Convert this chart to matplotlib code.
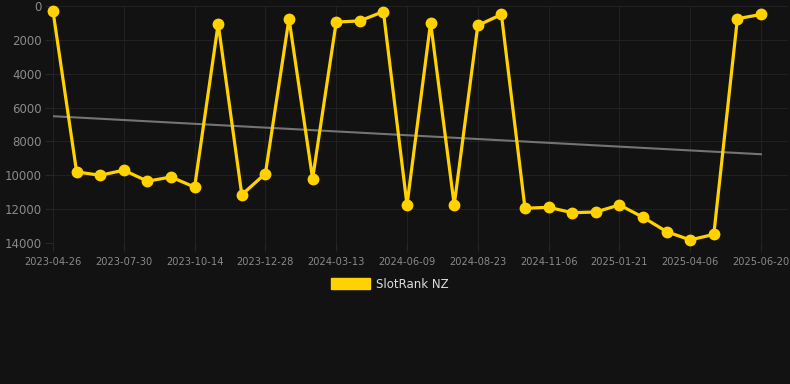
import numpy as np
import matplotlib
matplotlib.use("Agg")
import matplotlib.pyplot as plt
from matplotlib.patches import Patch

# SlotRank NZ rank over time (lower is better, axis inverted)
ranks = [300, 9800, 10000, 9700, 10350, 10100, 10700, 1050, 11150, 9900,
         750, 10200, 950, 880, 330, 11750, 980, 11750, 1150, 500,
         11950, 11890, 12210, 12170, 11750, 12480, 13330, 13820, 13490, 750,
         500]
tick_labels = ["2023-04-26", "2023-07-30", "2023-10-14", "2023-12-28", "2024-03-13",
               "2024-06-09", "2024-08-23", "2024-11-06", "2025-01-21", "2025-04-06",
               "2025-06-20"]
y_ticks = [0, 2000, 4000, 6000, 8000, 10000, 12000, 14000]

BG = "#121212"
GOLD = "#FFD200"
GRID = "#212121"
TXT = "#8a8a8a"

W, H = 790, 384
fig = plt.figure(figsize=(W / 100, H / 100), dpi=100, facecolor=BG)
ax = fig.add_axes([53 / W, (H - 243) / H, (788 - 53) / W, 237 / H], facecolor=BG)

x = np.arange(len(ranks))
last = len(ranks) - 1

# trend line (least squares)
k, b = np.polyfit(x, ranks, 1)
ax.plot([0, last], [b, k * last + b], color="#747474", lw=1.5, zorder=2)

ax.plot(x, ranks, color=GOLD, lw=2.3, marker="o", ms=7.5,
        solid_joinstyle="miter", zorder=3, clip_on=False)

ax.set_ylim(14000, 0)
ax.set_xlim(0, last * (788 - 53) / (761 - 53))
ax.set_yticks(y_ticks)
ax.set_xticks(x[::3])
ax.set_xticklabels(tick_labels)

ax.grid(True, color=GRID, lw=0.8)
for s in ax.spines.values():
    s.set_visible(False)
ax.tick_params(axis="both", colors="#262626", labelcolor=TXT, length=6, width=0.8)
ax.tick_params(axis="y", labelsize=8.5, pad=2)
ax.tick_params(axis="x", labelsize=7.1, pad=4)

fig.legend(handles=[Patch(color=GOLD, label="SlotRank NZ")],
           loc="center", bbox_to_anchor=(390 / W, (H - 284) / H),
           frameon=False, fontsize=8.5, labelcolor="#dddddd",
           handlelength=3.3, handleheight=1.0, handletextpad=0.5)

fig.savefig("out.png", dpi=100, facecolor=BG)
